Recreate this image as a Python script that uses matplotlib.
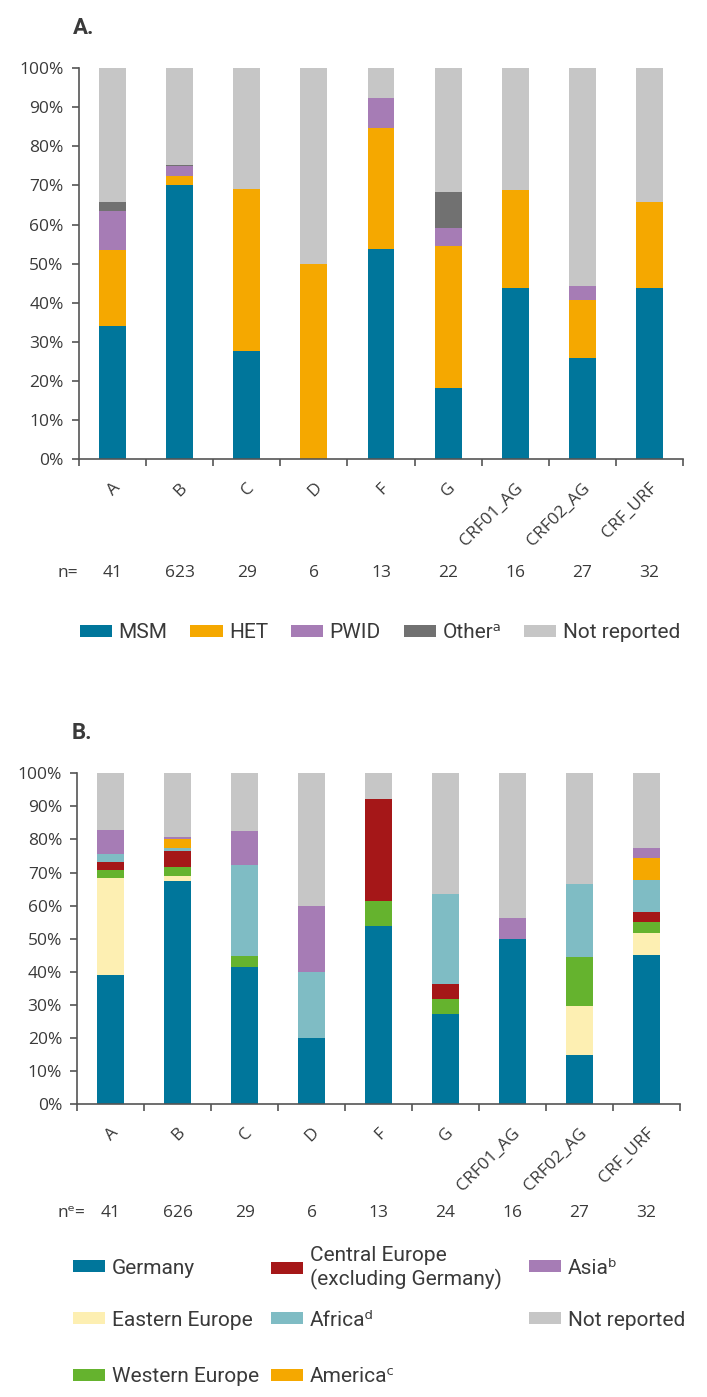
# stacked percentage bars: HIV-1 subtypes by transmission route (A) and region of origin (B)
import matplotlib.pyplot as plt
import numpy as np
from matplotlib.patches import Patch
from matplotlib.transforms import ScaledTranslation

plt.rcParams['font.family'] = ['Open Sans', 'DejaVu Sans']

subtypes: list = ['A', 'B', 'C', 'D', 'F', 'G', 'CRF01_AG', 'CRF02_AG', 'CRF_URF']
n_route: list = [41, 623, 29, 6, 13, 22, 16, 27, 32]
n_origin: list = [41, 626, 29, 6, 13, 24, 16, 27, 32]

# panel A, percent of cases per subtype
route_labels: list = ['MSM', 'HET', 'PWID', 'Other\u1d43', 'Not reported']
msm: list = [34.1, 70.0, 27.6, 0.0, 53.8, 18.2, 43.8, 25.9, 43.8]
het: list = [19.5, 2.4, 41.4, 50.0, 30.8, 36.4, 25.0, 14.8, 21.9]
pwid: list = [9.8, 2.5, 0.0, 0.0, 7.7, 4.5, 0.0, 3.7, 0.0]
other: list = [2.4, 0.3, 0.0, 0.0, 0.0, 9.1, 0.0, 0.0, 0.0]
route_not_reported: list = [34.2, 24.8, 31.0, 50.0, 7.7, 31.8, 31.2, 55.6, 34.3]

# panel B, percent of cases per subtype
origin_labels: list = ['Germany', 'Eastern Europe', 'Western Europe',
                       'Central Europe\n(excluding Germany)', 'Africa\u1d48',
                       'America\u1d9c', 'Asia\u1d47', 'Not reported']
germany: list = [39.0, 67.3, 41.4, 20.0, 53.8, 27.3, 50.0, 14.8, 45.2]
eastern_europe: list = [29.3, 1.6, 0.0, 0.0, 0.0, 0.0, 0.0, 14.8, 6.5]
western_europe: list = [2.4, 2.9, 3.4, 0.0, 7.7, 4.5, 0.0, 14.8, 3.2]
central_europe: list = [2.4, 4.6, 0.0, 0.0, 30.8, 4.5, 0.0, 0.0, 3.2]
africa: list = [2.4, 1.1, 27.6, 20.0, 0.0, 27.3, 0.0, 22.2, 9.7]
america: list = [0.0, 2.5, 0.0, 0.0, 0.0, 0.0, 0.0, 0.0, 6.5]
asia: list = [7.3, 0.7, 10.3, 20.0, 0.0, 0.0, 6.2, 0.0, 3.2]
origin_not_reported: list = [17.2, 19.3, 17.3, 40.0, 7.7, 36.4, 43.8, 33.4, 22.5]

BLUE = '#00769b'
ORANGE = '#f5a800'
PURPLE = '#a67cb5'
DARK_GREY = '#717171'
LIGHT_GREY = '#c6c6c6'
RED = '#a51718'
PALE_YELLOW = '#fdefb2'
LIGHT_TEAL = '#7fbcc4'
GREEN = '#65b32e'
TEXT = '#3a3a3a'
AXIS = '#555555'

W, H = 707, 1397
fig = plt.figure(figsize = (W / 100, H / 100), dpi = 100)
legend_font = {'family': ['Roboto', 'DejaVu Sans'], 'size': 15}


def px_box(left, top, right, bottom):
    return [left / W, 1 - bottom / H, (right - left) / W, (bottom - top) / H]


def draw_panel(ax, layers, colors, counts, n_label, n_offset, n_label_dx):
    x: np.ndarray = np.arange(len(subtypes)) + 0.5
    bottom: np.ndarray = np.zeros(len(subtypes))
    for values, color in zip(layers, colors):
        ax.bar(x, values, width = 0.4, bottom = bottom, color = color, linewidth = 0)
        bottom = bottom + np.array(values)

    ax.set_xlim(0, len(subtypes))
    ax.set_ylim(0, 100)
    ax.set_yticks(np.arange(0, 101, 10))
    ax.set_yticklabels([f'{v}%' for v in range(0, 101, 10)])
    ax.set_xticks(np.arange(len(subtypes) + 1))
    ax.set_xticklabels([])
    ax.set_xticks(x, minor = True)
    ax.set_xticklabels(subtypes, minor = True, rotation = 45, ha = 'right',
                       va = 'center', rotation_mode = 'anchor')
    ax.tick_params(axis = 'x', which = 'minor', length = 0, pad = 19, labelsize = 12.5, labelcolor = TEXT)
    ax.tick_params(axis = 'x', which = 'major', length = 5, width = 1.2, color = AXIS)
    ax.tick_params(axis = 'y', length = 5, width = 1.2, color = AXIS, pad = 6, labelsize = 12.5, labelcolor = TEXT)
    shift = ScaledTranslation(5 / 100, 0, fig.dpi_scale_trans)
    for label in ax.get_xticklabels(minor = True):
        label.set_transform(label.get_transform() + shift)

    for side in ['top', 'right']:
        ax.spines[side].set_visible(False)
    for side in ['left', 'bottom']:
        ax.spines[side].set_color(AXIS)
        ax.spines[side].set_linewidth(1.2)

    for xi, n in zip(x, counts):
        ax.annotate(str(n), xy = (xi, 0), xycoords = ('data', 'axes fraction'),
                    xytext = (0, -n_offset), textcoords = 'offset pixels',
                    ha = 'center', va = 'center', fontsize = 12.5, color = TEXT)
    ax.annotate(n_label, xy = (0, 0), xycoords = ('data', 'axes fraction'),
                xytext = (n_label_dx, -n_offset), textcoords = 'offset pixels',
                ha = 'right', va = 'center', fontsize = 12.5, color = TEXT)


def add_legend_entry(label, color, x_px, y_px):
    fig.legend(handles = [Patch(facecolor = color, edgecolor = 'none', label = label)],
               loc = 'center left', bbox_to_anchor = (x_px / W, 1 - y_px / H),
               frameon = False, borderpad = 0, borderaxespad = 0,
               handlelength = 1.55, handleheight = 0.56, handletextpad = 0.3,
               prop = legend_font, labelcolor = TEXT)


# panel A
ax_a = fig.add_axes(px_box(79, 68, 683, 459.3))
draw_panel(ax_a, [msm, het, pwid, other, route_not_reported],
           [BLUE, ORANGE, PURPLE, DARK_GREY, LIGHT_GREY],
           n_route, 'n=', 114, -1)
fig.text(73 / W, 1 - 28 / H, 'A.', fontsize = 16, fontweight = 'bold',
         family = ['Roboto', 'DejaVu Sans'], color = TEXT, va = 'center')
route_handles: list = [Patch(facecolor = c, edgecolor = 'none', label = l) for c, l in
                       zip([BLUE, ORANGE, PURPLE, DARK_GREY, LIGHT_GREY], route_labels)]
fig.legend(handles = route_handles, ncol = 5, loc = 'center left',
           bbox_to_anchor = (80 / W, 1 - 633 / H), frameon = False,
           borderpad = 0, borderaxespad = 0, handlelength = 1.55, handleheight = 0.56,
           handletextpad = 0.3, columnspacing = 1.1, prop = legend_font, labelcolor = TEXT)

# panel B
ax_b = fig.add_axes(px_box(77.3, 773.3, 680, 1104))
origin_colors: list = [BLUE, PALE_YELLOW, GREEN, RED, LIGHT_TEAL, ORANGE, PURPLE, LIGHT_GREY]
draw_panel(ax_b, [germany, eastern_europe, western_europe, central_europe, africa,
                  america, asia, origin_not_reported],
           origin_colors, n_origin, 'n\u1d49=', 109, 8)
fig.text(72 / W, 1 - 733 / H, 'B.', fontsize = 16, fontweight = 'bold',
         family = ['Roboto', 'DejaVu Sans'], color = TEXT, va = 'center')

# legend grid for panel B: column and row positions in pixels
legend_cols: list = [73, 271, 529]
legend_rows: list = [1268, 1320, 1377]
legend_slots: list = [(0, 0), (0, 1), (0, 2), (1, 0), (1, 1), (1, 2), (2, 0), (2, 1)]
for label, color, (col, row) in zip(origin_labels, origin_colors, legend_slots):
    add_legend_entry(label, color, legend_cols[col], legend_rows[row])

fig.savefig('out.png', dpi = 100)
